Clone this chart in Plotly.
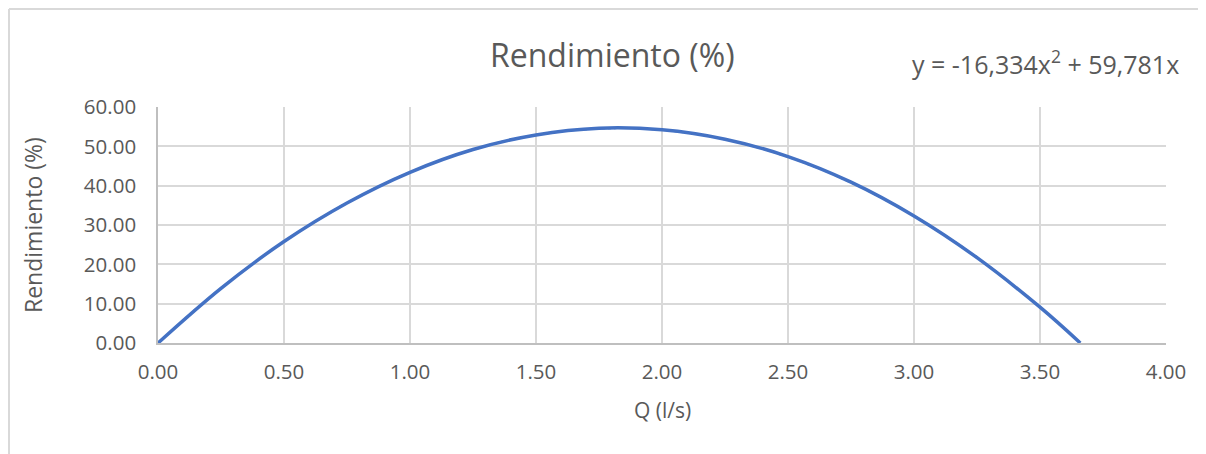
import numpy as np
import plotly.graph_objects as go

# ---- data ----
q_values = [0.00, 0.25, 0.50, 0.75, 1.00, 1.25, 1.50, 1.75, 2.00, 2.25, 2.50, 2.75, 3.00, 3.25, 3.50, 3.66]
rend_values = [0.0, 13.9, 25.8, 35.6, 43.4, 49.2, 52.9, 54.6, 54.2, 51.8, 47.4, 40.9, 32.3, 21.7, 9.1, 0.0]
x_ticks = [0.0, 0.5, 1.0, 1.5, 2.0, 2.5, 3.0, 3.5, 4.0]
y_ticks = [0, 10, 20, 30, 40, 50, 60]
chart_title = "Rendimiento (%)"
x_title = "Q (l/s)"
y_title = "Rendimiento (%)"
equation_text = "y = -16,334x<sup>2</sup> + 59,781x"

# ---- polynomial trendline (order 2, intercept 0), least squares like Excel ----
qa = np.array(q_values)
ra = np.array(rend_values)
A = np.vstack([qa ** 2, qa]).T
coef, *_ = np.linalg.lstsq(A, ra, rcond=None)
q_trend = np.linspace(qa.min(), qa.max(), 200)
r_trend = coef[0] * q_trend ** 2 + coef[1] * q_trend

# ---- layout geometry (page pixels; page body has an 8px margin) ----
OFF = 8
W, H = 1206 - OFF, 454 - OFF
L, R, T, B = 158 - OFF, 1166 - OFF, 107 - OFF, 343 - OFF
def px(x):
    return (x - OFF - L) / (R - L)
def py(y):
    return (B - (y - OFF)) / (B - T)

FONT = "Open Sans"
TXT = "#595959"
BLUE = "#4472C4"

fig = go.Figure()
fig.add_trace(go.Scatter(x=q_trend, y=r_trend, mode="lines",
                         line=dict(color=BLUE, width=2, dash="dot"),
                         showlegend=False, hoverinfo="skip"))
fig.add_trace(go.Scatter(x=q_values, y=rend_values, mode="lines",
                         line=dict(color=BLUE, width=3.5, shape="spline"),
                         showlegend=False))

fig.update_layout(
    width=W, height=H, autosize=False,
    margin=dict(l=L, r=W - R, t=T, b=H - B),
    paper_bgcolor="white", plot_bgcolor="white",
    font=dict(family=FONT, color=TXT, size=20),
)
fig.update_xaxes(range=[0, 4], tickvals=x_ticks, tickformat=".2f",
                 showgrid=True, gridcolor="#d9d9d9", gridwidth=1.5,
                 showline=True, linecolor="#bfbfbf", linewidth=1.5,
                 zeroline=False, ticks="outside", ticklen=10,
                 tickcolor="rgba(0,0,0,0)", tickfont=dict(size=20.5, color=TXT))
fig.update_yaxes(range=[0, 60], tickvals=y_ticks, tickformat=".2f",
                 showgrid=True, gridcolor="#d9d9d9", gridwidth=1.5,
                 showline=True, linecolor="#bfbfbf", linewidth=1.5,
                 zeroline=False, ticks="outside", ticklen=16,
                 tickcolor="rgba(0,0,0,0)", tickfont=dict(size=20.5, color=TXT))

annotations = [
    dict(text=chart_title, x=px(612), y=py(55), font=dict(size=32, color=TXT)),
    dict(text=equation_text, x=px(1045), y=py(62), font=dict(size=25, color=TXT)),
    dict(text=x_title, x=px(662), y=py(410), font=dict(size=21, color=TXT)),
    dict(text=y_title, x=px(33), y=py(225), textangle=-90, font=dict(size=23, color=TXT)),
]
for a in annotations:
    a.update(xref="paper", yref="paper", xanchor="center", yanchor="middle",
             showarrow=False)
fig.update_layout(annotations=annotations)

fig.add_shape(type="line", xref="paper", yref="paper",
              x0=px(9), y0=py(470), x1=px(9), y1=py(9),
              line=dict(color="#d9d9d9", width=2))
fig.add_shape(type="line", xref="paper", yref="paper",
              x0=px(9), y0=py(9), x1=px(1220), y1=py(9),
              line=dict(color="#d9d9d9", width=2))

fig.write_html("out.html")
